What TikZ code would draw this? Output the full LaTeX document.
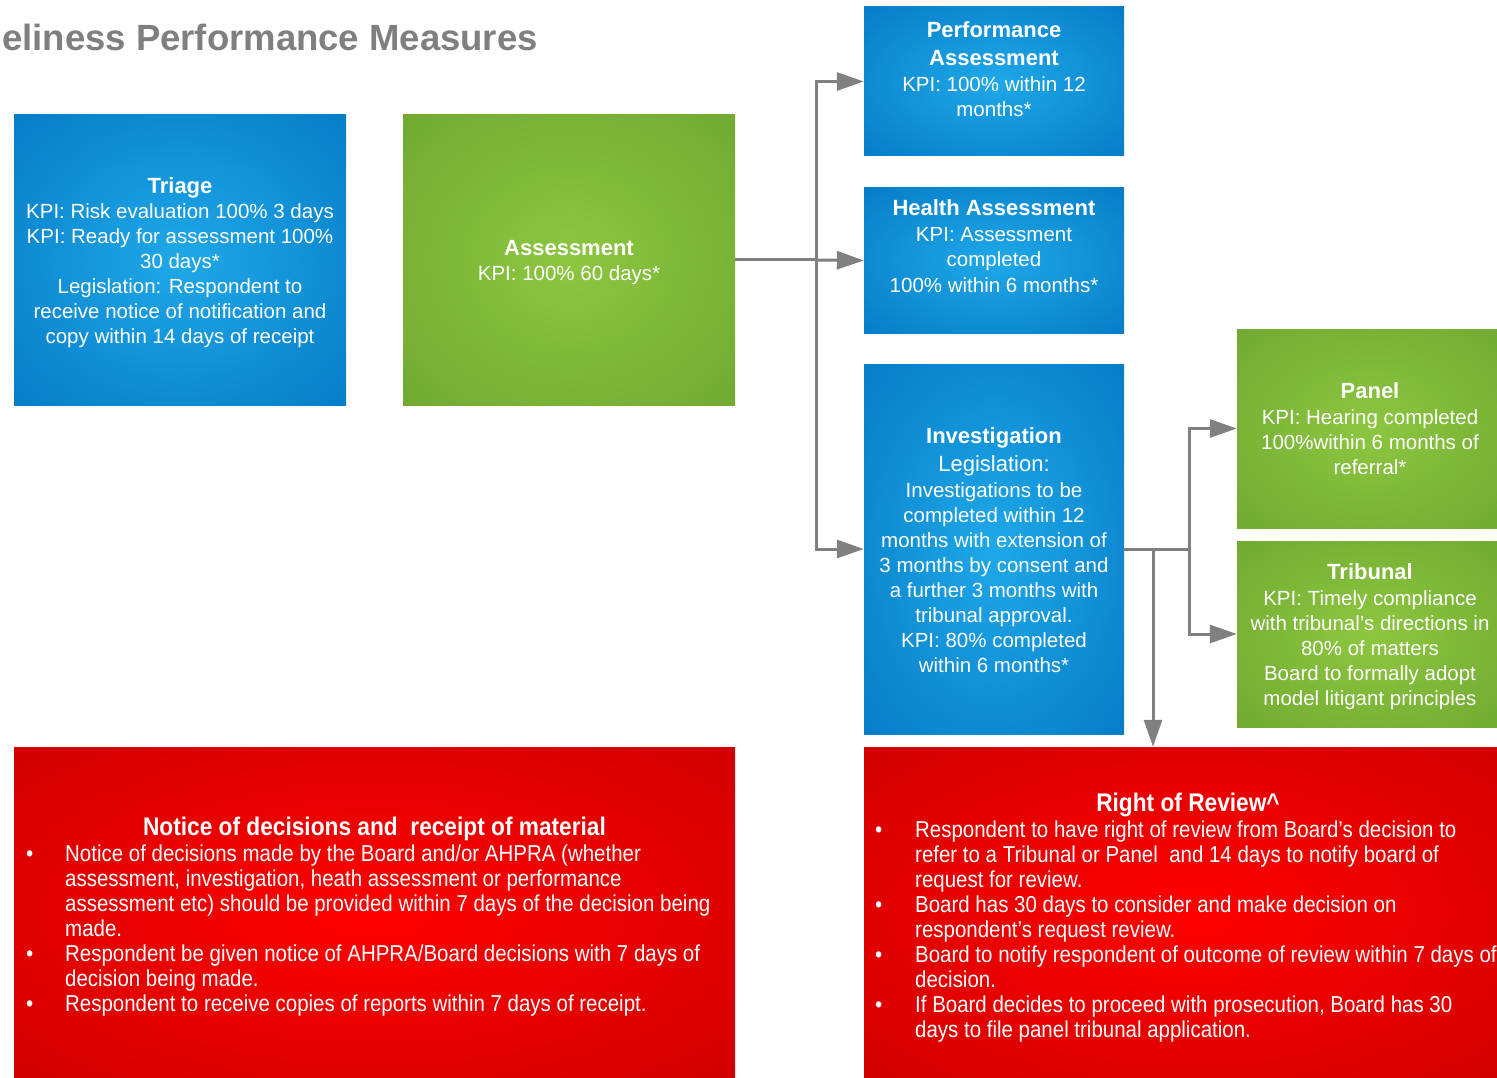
\documentclass[tikz,border=0pt]{standalone}
\usepackage{fontspec}
\setmainfont{Liberation Sans}
\newfontfamily\narrowfont[FakeStretch=0.89]{Liberation Sans}
\usetikzlibrary{arrows.meta}
\definecolor{linegray}{RGB}{128,128,128}
\definecolor{titlegray}{RGB}{127,127,127}
\pgfdeclareradialshading{blueshade}{\pgfpoint{0bp}{0bp}}{rgb(0bp)=(0.12,0.66,0.91); rgb(45bp)=(0,0.44,0.75); rgb(100bp)=(0,0.44,0.75)}
\pgfdeclareradialshading{greenshade}{\pgfpoint{0bp}{0bp}}{rgb(0bp)=(0.55,0.78,0.25); rgb(45bp)=(0.415,0.635,0.18); rgb(100bp)=(0.415,0.635,0.18)}
\pgfdeclareradialshading{redshade}{\pgfpoint{0bp}{0bp}}{rgb(0bp)=(1,0,0); rgb(50bp)=(0.75,0,0); rgb(100bp)=(0.75,0,0)}
\newcommand{\bxtitle}[1]{{\fontsize{22}{25}\selectfont\bfseries #1\strut}}
\begin{document}
\begin{tikzpicture}[x=1pt,y=-1pt,
  box/.style={rectangle, inner sep=0pt, draw=none},
  bluebox/.style={box, shading=blueshade},
  greenbox/.style={box, shading=greenshade},
  redbox/.style={box, shading=redshade},
  boxtext/.style={text=white, align=center, inner sep=0pt, anchor=north, font=\fontsize{20.5}{25}\selectfont},
  redtitle/.style={text=white, inner sep=0pt, anchor=base, font=\narrowfont\fontsize{25.5}{28}\selectfont\bfseries},
  redbody/.style={text=white, inner sep=0pt, anchor=north west, align=left, font=\narrowfont\fontsize{23}{25}\selectfont},
  link/.style={draw=linegray, line width=3pt},
  arr/.style={link, -{Triangle[length=27pt,width=18pt]}}]
\useasboundingbox (0,0) rectangle (1497,1078);

% title
\node[anchor=base east, text=titlegray, inner sep=0pt, font=\fontsize{36.5}{42}\selectfont\bfseries] (title) at (538,51) {Timeliness Performance Measures};

% boxes
\node[bluebox, minimum width=332pt, minimum height=290pt] (triage) at (180,260) {};
\node[greenbox, minimum width=332pt, minimum height=290pt] (assess) at (569,260) {};
\node[bluebox, minimum width=260pt, minimum height=149pt] (pa) at (994,81.5) {};
\node[bluebox, minimum width=260pt, minimum height=145pt] (ha) at (994,260.5) {};
\node[bluebox, minimum width=260pt, minimum height=370pt] (inv) at (994,549) {};
\node[greenbox, minimum width=266pt, minimum height=199pt] (panel) at (1370,428.5) {};
\node[greenbox, minimum width=266pt, minimum height=186pt] (trib) at (1370,634) {};
\node[redbox, minimum width=721pt, minimum height=331pt] (notice) at (374.5,912.5) {};
\node[redbox, minimum width=648pt, minimum height=331pt] (ror) at (1188,912.5) {};

% box texts
\node[boxtext] (triaget) at (180,175.5) {\bxtitle{Triage}\\
KPI: Risk evaluation 100\% 3 days\\
KPI: Ready for assessment 100\%\\
30 days*\\
Legislation: Respondent to\\
receive notice of notification and\\
copy within 14 days of receipt};

\node[boxtext] (assesst) at (569,237.5) {\bxtitle{Assessment}\\
KPI: 100\% 60 days*};

\node[boxtext] (pat) at (994,19.5) {\bxtitle{Performance}\\[3pt]
\bxtitle{Assessment}\\[1pt]
KPI: 100\% within 12\\
months*};

\node[boxtext] (hat) at (994,197.5) {\bxtitle{Health Assessment}\\[1pt]
KPI: Assessment\\
completed\\[1pt]
100\% within 6 months*};

\node[boxtext] (invt) at (994,425.5) {\bxtitle{Investigation}\\[3pt]
{\fontsize{22}{25}\selectfont Legislation:}\\[1pt]
Investigations to be\\
completed within 12\\
months with extension of\\
3 months by consent and\\
a further 3 months with\\
tribunal approval.\\
KPI: 80\% completed\\
within 6 months*};

\node[boxtext] (panelt) at (1370,380.5) {\bxtitle{Panel}\\[1pt]
KPI: Hearing completed\\
100\%within 6 months of\\
referral*};

\node[boxtext] (tribt) at (1370,561.5) {\bxtitle{Tribunal}\\[1pt]
KPI: Timely compliance\\
with tribunal’s directions in\\
80\% of matters\\
Board to formally adopt\\
model litigant principles};

\node[redtitle] (noticet) at (374.5,835) {Notice of decisions and\ \ receipt of material};
\node[redbody] (noticeb) at (26,843.5) {\strut\makebox[39pt][l]{\textbullet}Notice of decisions made by the Board and/or AHPRA (whether\\
\hspace*{39pt}assessment, investigation, heath assessment or performance\\
\hspace*{39pt}assessment etc) should be provided within 7 days of the decision being\\
\hspace*{39pt}made.\\
\makebox[39pt][l]{\textbullet}Respondent be given notice of AHPRA/Board decisions with 7 days of\\
\hspace*{39pt}decision being made.\\
\makebox[39pt][l]{\textbullet}Respondent to receive copies of reports within 7 days of receipt.};

\node[redtitle] (rort) at (1188,811) {Right of Review\^{}};
\node[redbody] (rorb) at (875,819.5) {\strut\makebox[40pt][l]{\textbullet}Respondent to have right of review from Board’s decision to\\
\hspace*{40pt}refer to a Tribunal or Panel\ \ and 14 days to notify board of\\
\hspace*{40pt}request for review.\\
\makebox[40pt][l]{\textbullet}Board has 30 days to consider and make decision on\\
\hspace*{40pt}respondent’s request review.\\
\makebox[40pt][l]{\textbullet}Board to notify respondent of outcome of review within 7 days of\\
\hspace*{40pt}decision.\\
\makebox[40pt][l]{\textbullet}If Board decides to proceed with prosecution, Board has 30\\
\hspace*{40pt}days to file panel tribunal application.};

% connectors
\coordinate (ja) at (816,260);
\coordinate (jb) at (1189,549);
\coordinate (jc) at (1153,549);
\draw[link] (assess.east) -- (ja);
\draw[arr] (ja) |- (pa.west);
\draw[arr] (ja) -- (ha.west);
\draw[arr] (ja) |- (inv.west);
\draw[link] (inv.east) -- (jb);
\draw[arr] (jb) |- (panel.west);
\draw[arr] (jb) |- (trib.west);
\draw[arr] (jc) -- (jc |- ror.north);
\end{tikzpicture}
\end{document}
